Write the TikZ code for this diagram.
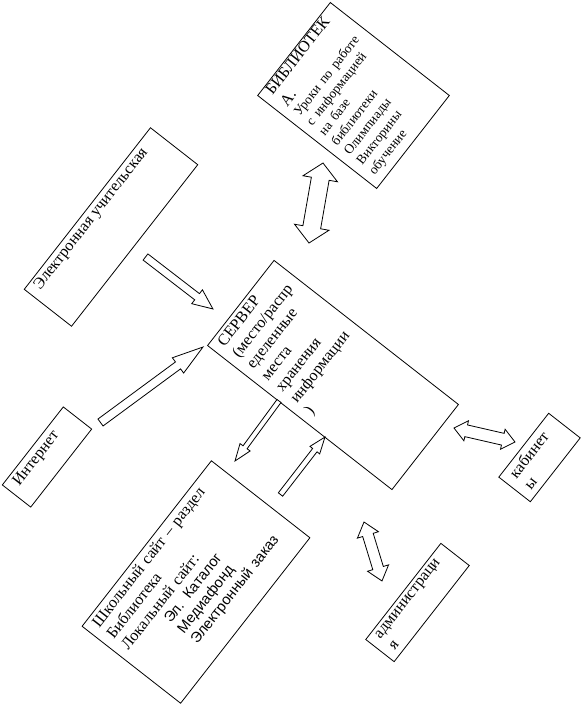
\documentclass[tikz,border=0pt]{standalone}
\usepackage{fontspec}
\setmainfont{Liberation Serif}
\newfontfamily\sansfnt{Liberation Sans}
\usetikzlibrary{calc}
\tikzset{
  rbox/.style={draw=black, line width=0.6pt, rotate=52, inner sep=0pt, fill=white},
  boxtext/.style={rotate=52, anchor=north west, inner xsep=7pt, inner ysep=2.5pt, align=left, font=\fontsize{12}{13.8}\selectfont},
  blockarrow/.style={draw=black, line width=0.6pt, fill=white, line join=miter},
}
\newcommand\singlearrow[5]{%
  \draw[blockarrow] let \p1=($(#2)-(#1)$), \n1={veclen(\x1,\y1)}, \n2={atan2(\y1,\x1)},
    \n3={#3*0.375pt}, \n4={#4*0.375pt}, \n5={\n1-#5*0.75pt} in
    [shift={(#1)}, rotate=\n2]
    (0pt,-\n3) -- (\n5,-\n3) -- (\n5,-\n4) -- (\n1,0pt)
    -- (\n5,\n4) -- (\n5,\n3) -- (0pt,\n3) -- cycle;}
\newcommand\doublearrow[5]{%
  \draw[blockarrow] let \p1=($(#2)-(#1)$), \n1={veclen(\x1,\y1)}, \n2={atan2(\y1,\x1)},
    \n3={#3*0.375pt}, \n4={#4*0.375pt}, \n5={#5*0.75pt}, \n6={\n1-#5*0.75pt} in
    [shift={(#1)}, rotate=\n2]
    (0pt,0pt) -- (\n5,\n4) -- (\n5,\n3) -- (\n6,\n3) -- (\n6,\n4)
    -- (\n1,0pt) -- (\n6,-\n4) -- (\n6,-\n3) -- (\n5,-\n3) -- (\n5,-\n4) -- cycle;}
\begin{document}
\begin{tikzpicture}[x=0.75pt,y=-0.75pt]
\useasboundingbox (0,0) rectangle (582,707);
% boxes
\node[rbox, minimum width=88.5pt, minimum height=113.25pt] (lib) at (353.5,95.5) {};
\node[rbox, minimum width=153.75pt, minimum height=45pt] (teach) at (111,227) {};
\node[rbox, minimum width=81pt, minimum height=175.5pt] (server) at (333,375) {};
\node[rbox, minimum width=74.25pt, minimum height=27pt] (inet) at (47,457) {};
\node[rbox, minimum width=157.5pt, minimum height=93.75pt] (school) at (196,582) {};
\node[rbox, minimum width=60.75pt, minimum height=30pt] (cab) at (539.5,457.5) {};
\node[rbox, minimum width=91.5pt, minimum height=27pt] (adm) at (417.5,602.5) {};
% texts
\node[boxtext, inner ysep=1pt, text width=110pt] (libtxt) at (lib.north west)
  {{\fontsize{12}{14}\selectfont БИБЛИОТЕК\\А.\par}{\fontsize{10}{11.9}\selectfont Уроки по работе\\с информацией\\на базе\\библиотеки\\Олимпиады\\Викторины\\обучение\par}};
\node[boxtext, inner ysep=2pt] (teachtxt) at (teach.north west) {Электронная учительская};
\node[boxtext, inner ysep=3pt] (srvtxt) at (server.north west)
  {СЕРВЕР\\(место/распр\\еделенные\\места\\хранения\\информации\\)};
\node[boxtext, inner ysep=3pt] (inettxt) at (inet.north west) {Интернет};
\node[boxtext, inner ysep=3pt, text width=200pt] (schooltxt) at (school.north west)
  {Школьный сайт – раздел\\Библиотека\\Локальный сайт:\par
   {\sansfnt\fontsize{11}{12.65}\selectfont\hspace*{35.4pt}Эл. Каталог\\\hspace*{35.4pt}Медиафонд\\\hspace*{35.4pt}Электронный заказ\par}};
\node[boxtext, inner ysep=3pt] (cabtxt) at (cab.north west) {кабинет\\ы};
\node[boxtext, inner ysep=3pt] (admtxt) at (adm.north west) {администраци\\я};
% arrow end points
\coordinate (a1a) at (309,243); \coordinate (a1b) at (323,163);
\coordinate (a2a) at (145.5,257); \coordinate (a2b) at (213,309);
\coordinate (a3a) at (100.5,422.5); \coordinate (a3b) at (203,347);
\coordinate (a4a) at (279,401); \coordinate (a4b) at (235,461);
\coordinate (a5a) at (280.5,494.5); \coordinate (a5b) at (325,437);
\coordinate (a6a) at (454,428); \coordinate (a6b) at (515,442);
\coordinate (a7a) at (364,522); \coordinate (a7b) at (382,581);
% arrows
\doublearrow{a1a}{a1b}{18}{35}{16}
\singlearrow{a2a}{a2b}{7.8}{17.5}{20}
\singlearrow{a3a}{a3b}{8.6}{19}{31}
\singlearrow{a4a}{a4b}{5}{12.5}{17}
\singlearrow{a5a}{a5b}{5.5}{12.3}{16.5}
\doublearrow{a6a}{a6b}{12}{20.5}{12.5}
\doublearrow{a7a}{a7b}{11}{22}{13.5}
\end{tikzpicture}
\end{document}
